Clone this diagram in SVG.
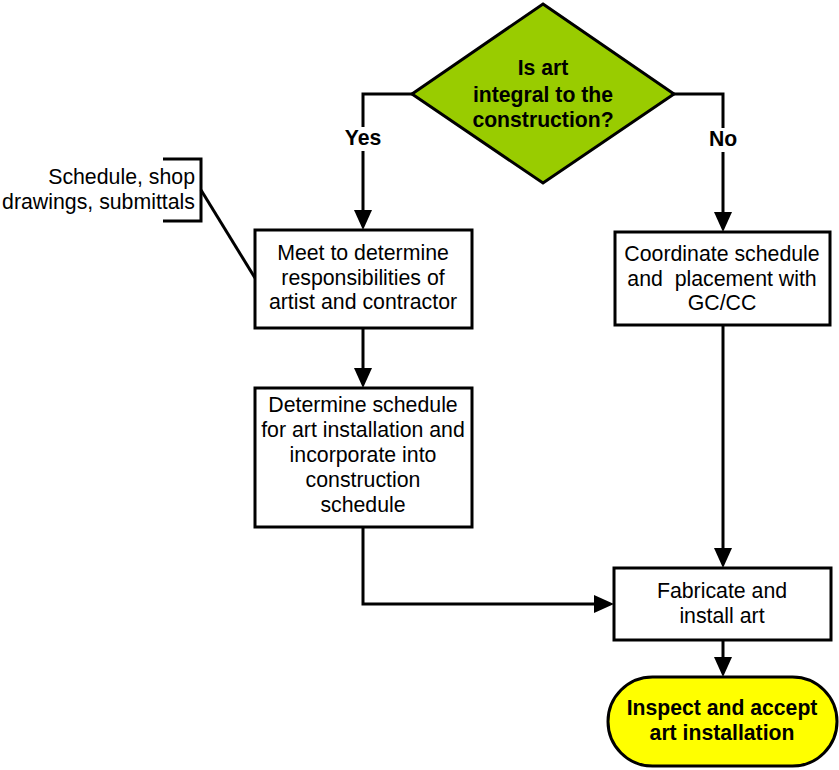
<svg xmlns="http://www.w3.org/2000/svg" width="839" height="770" viewBox="0 0 839 770">
<defs>
<style>
.box{fill:#fff;stroke:#000;stroke-width:3}
.t{font-family:"Liberation Sans",Arial,sans-serif;font-size:21.3px;fill:#000;text-anchor:middle}
.b{font-family:"Liberation Sans",Arial,sans-serif;font-size:21.2px;font-weight:bold;fill:#000;text-anchor:middle}
.ln{fill:none;stroke:#000;stroke-width:3}
</style>
</defs>
<rect width="839" height="770" fill="#fff"/>
<g id="connectors">
<path class="ln" d="M412,94 H363 V212" />
<path d="M354,210 L372,210 L363,230 Z" fill="#000"/>
<path class="ln" d="M674,94 H723 V214" />
<path d="M714,212 L732,212 L723,232 Z" fill="#000"/>
<path class="ln" d="M363,328 V370" />
<path d="M354,368 L372,368 L363,388 Z" fill="#000"/>
<path class="ln" d="M723,325 V550" />
<path d="M714,548 L732,548 L723,568 Z" fill="#000"/>
<path class="ln" d="M363,527 V604 H596" />
<path d="M594,595 L614,604 L594,613 Z" fill="#000"/>
<path class="ln" d="M723,640 V659" />
<path d="M714,657 L732,657 L723,677 Z" fill="#000"/>
<rect x="340" y="127" width="46" height="24" fill="#fff"/>
<rect x="703" y="128" width="40" height="24" fill="#fff"/>
<text class="b" x="363" y="145">Yes</text>
<text class="b" x="723" y="146">No</text>
<path class="ln" d="M163,159 H201 V221 H163" />
<path class="ln" d="M201,190 L255,278" />
</g>
<g id="annotation">
<text class="t" x="195" y="184" style="text-anchor:end">Schedule, shop</text>
<text class="t" x="195" y="209" style="text-anchor:end">drawings, submittals</text>
</g>
<g id="decision">
<polygon points="543,4 674,94 543,183 412,94" fill="#99CC00" stroke="#000" stroke-width="3"/>
<text class="b" x="543" y="75">Is art</text>
<text class="b" x="543" y="102">integral to the</text>
<text class="b" x="543" y="127">construction?</text>
</g>
<g id="meet">
<rect class="box" x="255" y="230" width="217" height="98"/>
<text class="t" x="363" y="260">Meet to determine</text>
<text class="t" x="363" y="285">responsibilities of</text>
<text class="t" x="363" y="309">artist and contractor</text>
</g>
<g id="determine">
<rect class="box" x="255" y="388" width="217" height="139"/>
<text class="t" x="363" y="412">Determine schedule</text>
<text class="t" x="363" y="437">for art installation and</text>
<text class="t" x="363" y="462">incorporate into</text>
<text class="t" x="363" y="487">construction</text>
<text class="t" x="363" y="512">schedule</text>
</g>
<g id="coordinate">
<rect class="box" x="615" y="232" width="215" height="93"/>
<text class="t" x="722" y="261" xml:space="preserve">Coordinate schedule</text>
<text class="t" x="722" y="286" xml:space="preserve">and  placement with</text>
<text class="t" x="722" y="310">GC/CC</text>
</g>
<g id="fabricate">
<rect class="box" x="614" y="568" width="217" height="72"/>
<text class="t" x="722" y="598">Fabricate and</text>
<text class="t" x="722" y="623">install art</text>
</g>
<g id="inspect">
<rect x="608" y="677" width="229" height="89" rx="44.5" ry="44.5" fill="#FFFF00" stroke="#000" stroke-width="3"/>
<text class="b" x="722" y="715">Inspect and accept</text>
<text class="b" x="722" y="740">art installation</text>
</g>
</svg>
